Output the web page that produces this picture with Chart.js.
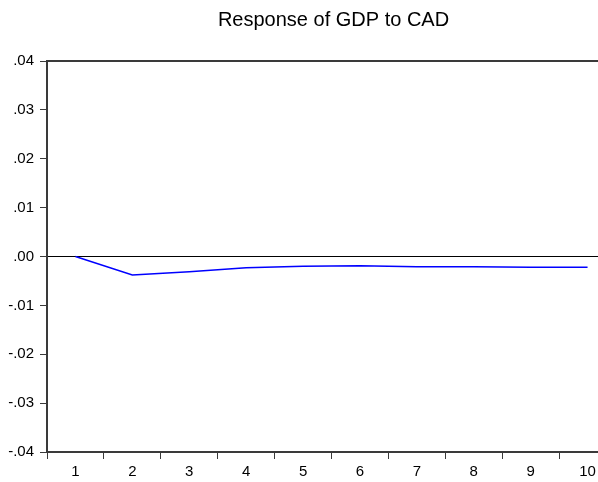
<!DOCTYPE html>
<html>
<head>
<meta charset="utf-8">
<script src="https://cdn.jsdelivr.net/npm/chart.js@4"></script>
<style>
  html, body { margin: 0; padding: 0; background: #fff; overflow: hidden; }
  #wrap { width: 616px; height: 482px; }
</style>
</head>
<body>
<div id="wrap"><canvas id="irf-chart"></canvas></div>
<script>
// Impulse response of GDP to a CAD shock, 10 periods.
// The plot runs past the right edge of the 598px window, as in the original export.
const periods = ["1", "2", "3", "4", "5", "6", "7", "8", "9", "10"];
const gdpResponse = [0.0, -0.0038, -0.0031, -0.0023, -0.0020, -0.0019, -0.0021, -0.0021, -0.0022, -0.0022];
const yMin = -0.04;
const yMax = 0.04;
const yStep = 0.01;
const chartTitle = "Response of GDP to CAD";

function fmtTick(v) {
  const r = Math.round(v * 100) / 100;
  return r.toFixed(2).replace("0.", ".");
}

const axisColor = "#3a3a3a";
const font = { family: "'Liberation Sans', Arial, sans-serif", size: 15 };

// title centred over the plot area rather than the whole canvas
const plotTitle = {
  id: "plotTitle",
  afterDraw(chart) {
    const { ctx, chartArea } = chart;
    ctx.save();
    ctx.font = `20px ${font.family}`;
    ctx.fillStyle = "#000";
    ctx.textAlign = "center";
    ctx.textBaseline = "middle";
    ctx.fillText(chartTitle, (chartArea.left + chartArea.right) / 2 + 2, 20);
    ctx.restore();
  }
};

new Chart(document.getElementById("irf-chart"), {
  type: "line",
  data: {
    labels: periods,
    datasets: [{
      label: "GDP",
      data: gdpResponse,
      borderColor: "#0000ff",
      borderWidth: 1.5,
      pointRadius: 0,
      tension: 0,
      fill: false
    }]
  },
  options: {
    responsive: true,
    maintainAspectRatio: false,
    animation: false,
    layout: { padding: { left: 0, right: 0, top: 61, bottom: 0 } },
    plugins: {
      legend: { display: false },
      tooltip: { enabled: false },
      title: { display: false }
    },
    scales: {
      x: {
        type: "category",
        offset: true,
        grid: {
          offset: true,
          drawOnChartArea: false,
          tickLength: 7,
          tickColor: axisColor,
          tickWidth: 1
        },
        border: { display: true, color: axisColor, width: 2 },
        ticks: { color: "#000", font: font, padding: 4, maxRotation: 0 },
        afterFit: (scale) => { scale.height = 30; }
      },
      x2: {
        position: "top",
        type: "category",
        labels: periods,
        offset: true,
        grid: { display: false, drawTicks: false },
        border: { display: true, color: axisColor, width: 2 },
        ticks: { display: false }
      },
      y: {
        min: yMin,
        max: yMax,
        grid: {
          color: (ctx) => (ctx.tick && Math.abs(ctx.tick.value) < 1e-9 ? "#000" : "rgba(0,0,0,0)"),
          lineWidth: 1,
          tickLength: 7,
          tickColor: axisColor
        },
        border: { display: true, color: axisColor, width: 2 },
        ticks: {
          stepSize: yStep,
          color: "#000",
          font: font,
          padding: 6,
          callback: (v) => fmtTick(v)
        },
        afterFit: (scale) => { scale.width = 47; }
      }
    }
  },
  plugins: [plotTitle]
});
</script>
</body>
</html>
